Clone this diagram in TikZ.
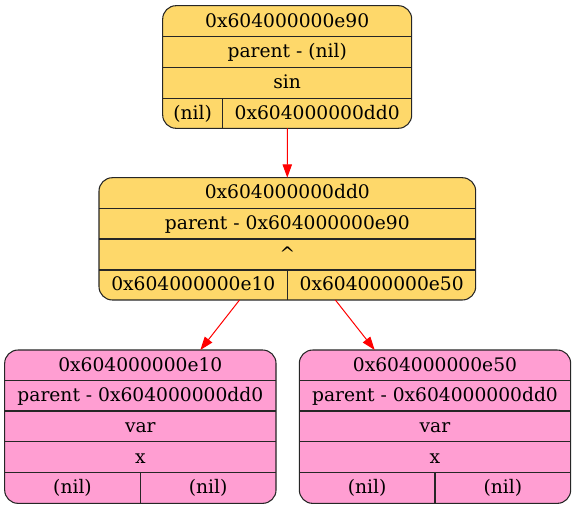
\documentclass[tikz,border=0pt]{standalone}
\usepackage{fontspec}
\setmainfont{DejaVu Serif}
\usetikzlibrary{arrows.meta,calc}
\definecolor{nodeyellow}{RGB}{254,216,106}
\definecolor{nodepink}{RGB}{255,158,210}
\definecolor{edgered}{RGB}{255,0,0}
\tikzset{
  recbox/.style={draw=black!85, line width=0.8pt, rounded corners=10pt, inner sep=0pt, outer sep=0pt},
  ybox/.style={recbox, fill=nodeyellow},
  pbox/.style={recbox, fill=nodepink},
  divider/.style={draw=black!85, line width=0.8pt},
  lbl/.style={inner sep=0pt, text height=9.6pt, text depth=0.6pt, font=\fontsize{14}{16}\selectfont, text=black},
  edge/.style={draw=edgered, line width=0.75pt, -{Triangle[length=10pt,width=7pt]}}
}
\begin{document}
\begin{tikzpicture}[x=0.75pt,y=-0.75pt]
\useasboundingbox (0,0) rectangle (576,509);
% boxes
\node[ybox, minimum width=186.75pt, minimum height=91.95pt] (top) at (287.2,67) {};
\node[ybox, minimum width=282.5pt, minimum height=91.7pt] (mid) at (287.35,238.85) {};
\node[pbox, minimum width=203.5pt, minimum height=115pt] (left) at (140.35,426.7) {};
\node[pbox, minimum width=203.5pt, minimum height=115pt] (right) at (435,426.7) {};
% top dividers
\draw[divider] (162.7,36.7) -- (411.7,36.7);
\draw[divider] (162.7,67.3) -- (411.7,67.3);
\draw[divider] (162.7,98.3) -- (411.7,98.3);
\draw[divider] (222.7,98.3) -- (222.7,128.3);
\node[lbl] (t1) at (287.2,21.3) {0x604000000e90};
\node[lbl] (t2) at (287.2,52) {parent - (nil)};
\node[lbl] (t3) at (287.2,82.8) {sin};
\node[lbl] (t4) at (192.7,113.3) {(nil)};
\node[lbl] (t5) at (317.2,113.3) {0x604000000dd0};
% mid dividers
\draw[divider] (99,208.3) -- (475.7,208.3);
\draw[divider] (99,239) -- (475.7,239);
\draw[divider] (99,270) -- (475.7,270);
\draw[divider] (287.7,270) -- (287.7,300);
\node[lbl] (m1) at (287.35,193) {0x604000000dd0};
\node[lbl] (m2) at (287.35,223.6) {parent - 0x604000000e90};
\node[lbl] (m3) at (287.35,254.5) {\textasciicircum};
\node[lbl] (m4) at (193.35,285) {0x604000000e10};
\node[lbl] (m5) at (381.7,285) {0x604000000e50};
% left child dividers
\draw[divider] (4.7,380.7) -- (276,380.7);
\draw[divider] (4.7,411) -- (276,411);
\draw[divider] (4.7,441.7) -- (276,441.7);
\draw[divider] (4.7,472.7) -- (276,472.7);
\draw[divider] (140.3,472.7) -- (140.3,503.3);
\node[lbl] (l1) at (140.35,365.3) {0x604000000e10};
\node[lbl] (l2) at (140.35,395.8) {parent - 0x604000000dd0};
\node[lbl] (l3) at (140.35,426.3) {var};
\node[lbl] (l4) at (140.35,457.2) {x};
\node[lbl] (l5) at (72.5,488) {(nil)};
\node[lbl] (l6) at (208.2,488) {(nil)};
% right child dividers
\draw[divider] (299.3,380.7) -- (570.7,380.7);
\draw[divider] (299.3,411) -- (570.7,411);
\draw[divider] (299.3,441.7) -- (570.7,441.7);
\draw[divider] (299.3,472.7) -- (570.7,472.7);
\draw[divider] (435,472.7) -- (435,503.3);
\node[lbl] (r1) at (435,365.3) {0x604000000e50};
\node[lbl] (r2) at (435,395.8) {parent - 0x604000000dd0};
\node[lbl] (r3) at (435,426.3) {var};
\node[lbl] (r4) at (435,457.2) {x};
\node[lbl] (r5) at (367.1,488) {(nil)};
\node[lbl] (r6) at (502.8,488) {(nil)};
% edges
\draw[edge] (top) -- (mid);
\draw[edge] (mid) -- (left);
\draw[edge] (mid) -- (right);
\end{tikzpicture}
\end{document}
